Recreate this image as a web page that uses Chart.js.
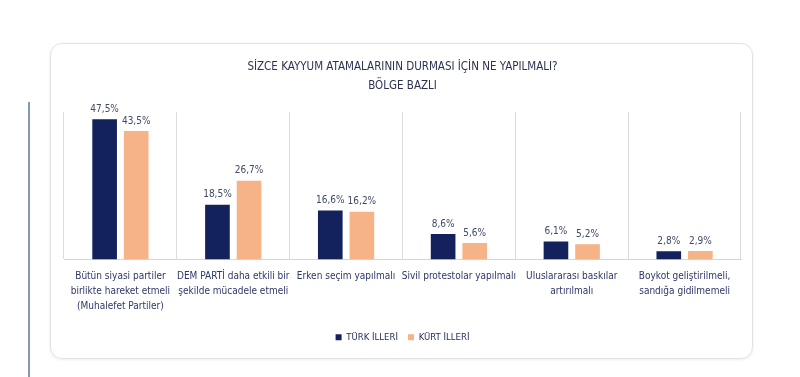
<!DOCTYPE html>
<html>
<head>
<meta charset="utf-8">
<script src="https://cdn.jsdelivr.net/npm/chart.js@4"></script>
<style>
    html, body { margin: 0; padding: 0; background: #fff; }
    body { width: 800px; height: 377px; position: relative; overflow: hidden; }
    .side-line { position: absolute; left: 28px; top: 102px; width: 2px; height: 275px; background: #8597b8; }
    .card {
        position: absolute; left: 50px; top: 43px; width: 701px; height: 314px;
        border: 1px solid #e2e2e2; border-radius: 12px;
        box-shadow: 0 1px 3px rgba(0,0,0,0.08);
    }
    #chart { position: absolute; left: 0; top: 0; }
</style>
</head>
<body>
<div class="side-line"></div>
<div class="card"><canvas id="chart" width="701" height="314"></canvas></div>
<script>
// Data
const categories = [
    ['Bütün siyasi partiler', 'birlikte hareket etmeli', '(Muhalefet Partiler)'],
    ['DEM PARTİ daha etkili bir', 'şekilde mücadele etmeli'],
    ['Erken seçim yapılmalı'],
    ['Sivil protestolar yapılmalı'],
    ['Uluslararası baskılar', 'artırılmalı'],
    ['Boykot geliştirilmeli,', 'sandığa gidilmemeli']
];
const seriesNames = ['TÜRK İLLERİ', 'KÜRT İLLERİ'];
const turkIlleri = [47.5, 18.5, 16.6, 8.6, 6.1, 2.8];
const kurtIlleri = [43.5, 26.7, 16.2, 5.6, 5.2, 2.9];
const colors = ['#13215c', '#f5b387'];

const FONT = '"Liberation Sans Narrow", "DejaVu Sans Condensed", "Liberation Sans", sans-serif';

// draws "47,5%" style labels above each bar
const valueLabels = {
    id: 'valueLabels',
    afterDatasetsDraw(chart) {
        const ctx = chart.ctx;
        ctx.save();
        ctx.font = '10px ' + FONT;
        ctx.fillStyle = '#404a66';
        ctx.textAlign = 'center';
        ctx.textBaseline = 'bottom';
        chart.data.datasets.forEach((ds, i) => {
            chart.getDatasetMeta(i).data.forEach((bar, j) => {
                ctx.fillText(ds.data[j].toFixed(1).replace('.', ',') + '%', bar.x, bar.y - 5);
            });
        });
        ctx.restore();
    }
};

new Chart(document.getElementById('chart'), {
    type: 'bar',
    data: {
        labels: categories,
        datasets: [
            { label: seriesNames[0], data: turkIlleri, backgroundColor: colors[0] },
            { label: seriesNames[1], data: kurtIlleri, backgroundColor: colors[1] }
        ]
    },
    options: {
        responsive: false,
        animation: false,
        categoryPercentage: 0.56,
        barPercentage: 0.78,
        layout: { padding: { left: 13, right: 11, top: 0, bottom: 6 } },
        plugins: {
            title: {
                display: true,
                text: ['SİZCE KAYYUM ATAMALARININ DURMASI İÇİN NE YAPILMALI?', 'BÖLGE BAZLI'],
                color: '#2c3350',
                font: { family: FONT, size: 11.5, weight: 'normal', lineHeight: 1.6 },
                padding: { top: 14, bottom: 17 }
            },
            legend: {
                position: 'bottom',
                labels: {
                    color: '#1f2a55',
                    font: { family: FONT, size: 9.5 },
                    usePointStyle: true,
                    pointStyle: 'rect',
                    boxWidth: 6,
                    boxHeight: 6,
                    padding: 10
                }
            },
            tooltip: { enabled: false }
        },
        scales: {
            x: {
                grid: { display: true, color: '#dcdcdc', drawTicks: false, offset: true },
                border: { color: '#d6d6d6' },
                ticks: {
                    color: '#2d3766',
                    font: { family: FONT, size: 10, lineHeight: 1.5 },
                    padding: 9,
                    maxRotation: 0,
                    autoSkip: false
                }
            },
            y: {
                display: false,
                min: 0,
                max: 50
            }
        }
    },
    plugins: [valueLabels]
});
</script>
</body>
</html>
